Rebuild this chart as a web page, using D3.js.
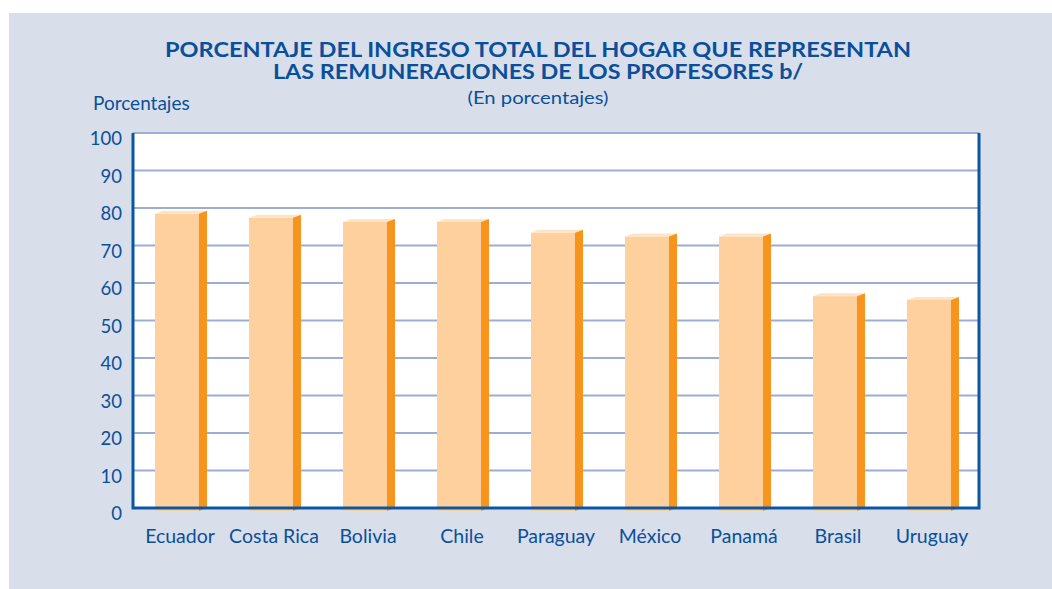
<!DOCTYPE html>
<html>
<head>
<meta charset="utf-8">
<style>
    body { margin: 0; background: #fff; }
    svg { display: block; }
    .ylab text, .xlab text { font-family: Lato, "Open Sans", sans-serif; fill: #0b4f9a; }
</style>
</head>
<body>
<svg width="1052" height="589"></svg>
<script src="https://d3js.org/d3.v7.min.js"></script>
<script>
// data
const countries = ["Ecuador", "Costa Rica", "Bolivia", "Chile", "Paraguay", "México", "Panamá", "Brasil", "Uruguay"];
const shares = [78.5, 77.4, 76.3, 76.3, 73.4, 72.4, 72.4, 56.5, 55.5];
const yTicks = [0, 10, 20, 30, 40, 50, 60, 70, 80, 90, 100];

const titleLines = ["PORCENTAJE DEL INGRESO TOTAL DEL HOGAR QUE REPRESENTAN", "LAS REMUNERACIONES DE LOS PROFESORES b/"];

const blue = "#0b4f9a";
const svg = d3.select("svg");

// panel background
svg.append("rect").attr("x", 9).attr("y", 13).attr("width", 1043).attr("height", 576).attr("fill", "#d8dfeb");

let plotLeft = 133, plotRight = 979, plotTop = 133, plotBottom = 508;

let y = d3.scaleLinear().domain([0, 100]).range([plotBottom, plotTop]);
let x = d3.scaleBand().domain(countries).range([plotLeft, plotRight])
    .paddingInner(0.447).paddingOuter(0.2235);

// white plot area
svg.append("rect").attr("x", plotLeft).attr("y", plotTop)
    .attr("width", plotRight - plotLeft).attr("height", plotBottom - plotTop).attr("fill", "#fff");

// grid lines
svg.append("g").selectAll("line")
    .data(yTicks.filter(d => d > 0))
    .join("line")
    .attr("x1", plotLeft).attr("x2", plotRight)
    .attr("y1", d => y(d)).attr("y2", d => y(d))
    .attr("stroke", "#9cafd3").attr("stroke-width", 2);

// bars (front, top, side)
let side = 8, rise = 3;
let frontW = x.bandwidth() - side;
let bars = svg.append("g").selectAll("g")
    .data(countries.map((c, i) => ({ c: c, v: shares[i] })))
    .join("g");

bars.append("rect")
    .attr("x", d => x(d.c) + 1)
    .attr("y", d => y(d.v))
    .attr("width", frontW)
    .attr("height", d => y(0) + 3 - y(d.v))
    .attr("fill", "#fdd09d");

bars.append("path")
    .attr("d", d => {
        let x0 = x(d.c) + 1, y0 = y(d.v);
        return `M${x0},${y0} L${x0 + side},${y0 - rise} L${x0 + frontW + side},${y0 - rise} L${x0 + frontW},${y0} Z`;
    })
    .attr("fill", "#fee3c4");

bars.append("path")
    .attr("d", d => {
        let x0 = x(d.c) + 1 + frontW, y0 = y(d.v), yb = y(0) + 3;
        return `M${x0},${y0} L${x0 + side},${y0 - rise} L${x0 + side},${yb - rise} L${x0},${yb} Z`;
    })
    .attr("fill", "#f7941d");

// frame: left, bottom, right
svg.append("path")
    .attr("d", `M${plotLeft},${plotTop} L${plotLeft},${plotBottom} L${plotRight},${plotBottom} L${plotRight},${plotTop}`)
    .attr("fill", "none")
    .attr("stroke", "#0a56a3")
    .attr("stroke-width", 3);

// y labels
svg.append("g").attr("class", "ylab").selectAll("text")
    .data(yTicks)
    .join("text")
    .attr("x", 122)
    .attr("y", d => y(d) + 12)
    .attr("text-anchor", "end")
    .attr("font-size", 18.5)
    .text(d => d);

// x labels
svg.append("g").attr("class", "xlab").selectAll("text")
    .data(countries)
    .join("text")
    .attr("x", d => x(d) + x.bandwidth() / 2)
    .attr("y", 543)
    .attr("text-anchor", "middle")
    .attr("font-size", 19.5)
    .text(d => d);

// titles
svg.append("g").selectAll("text")
    .data(titleLines)
    .join("text")
    .attr("x", 538)
    .attr("y", (d, i) => 57 + i * 22)
    .attr("text-anchor", "middle")
    .attr("font-family", "Lato, sans-serif")
    .attr("font-weight", "bold")
    .attr("font-size", 20)
    .attr("fill", blue)
    .attr("textLength", (d, i) => i == 0 ? 746 : 530)
    .attr("lengthAdjust", "spacingAndGlyphs")
    .text(d => d);

svg.append("text")
    .attr("x", 538).attr("y", 104)
    .attr("text-anchor", "middle")
    .attr("font-family", "Lato, sans-serif")
    .attr("font-size", 18)
    .attr("fill", blue)
    .attr("textLength", 141)
    .attr("lengthAdjust", "spacingAndGlyphs")
    .text("(En porcentajes)");

svg.append("text")
    .attr("x", 93).attr("y", 110)
    .attr("font-family", "Lato, sans-serif")
    .attr("font-size", 19)
    .attr("fill", blue)
    .text("Porcentajes");
</script>
</body>
</html>
